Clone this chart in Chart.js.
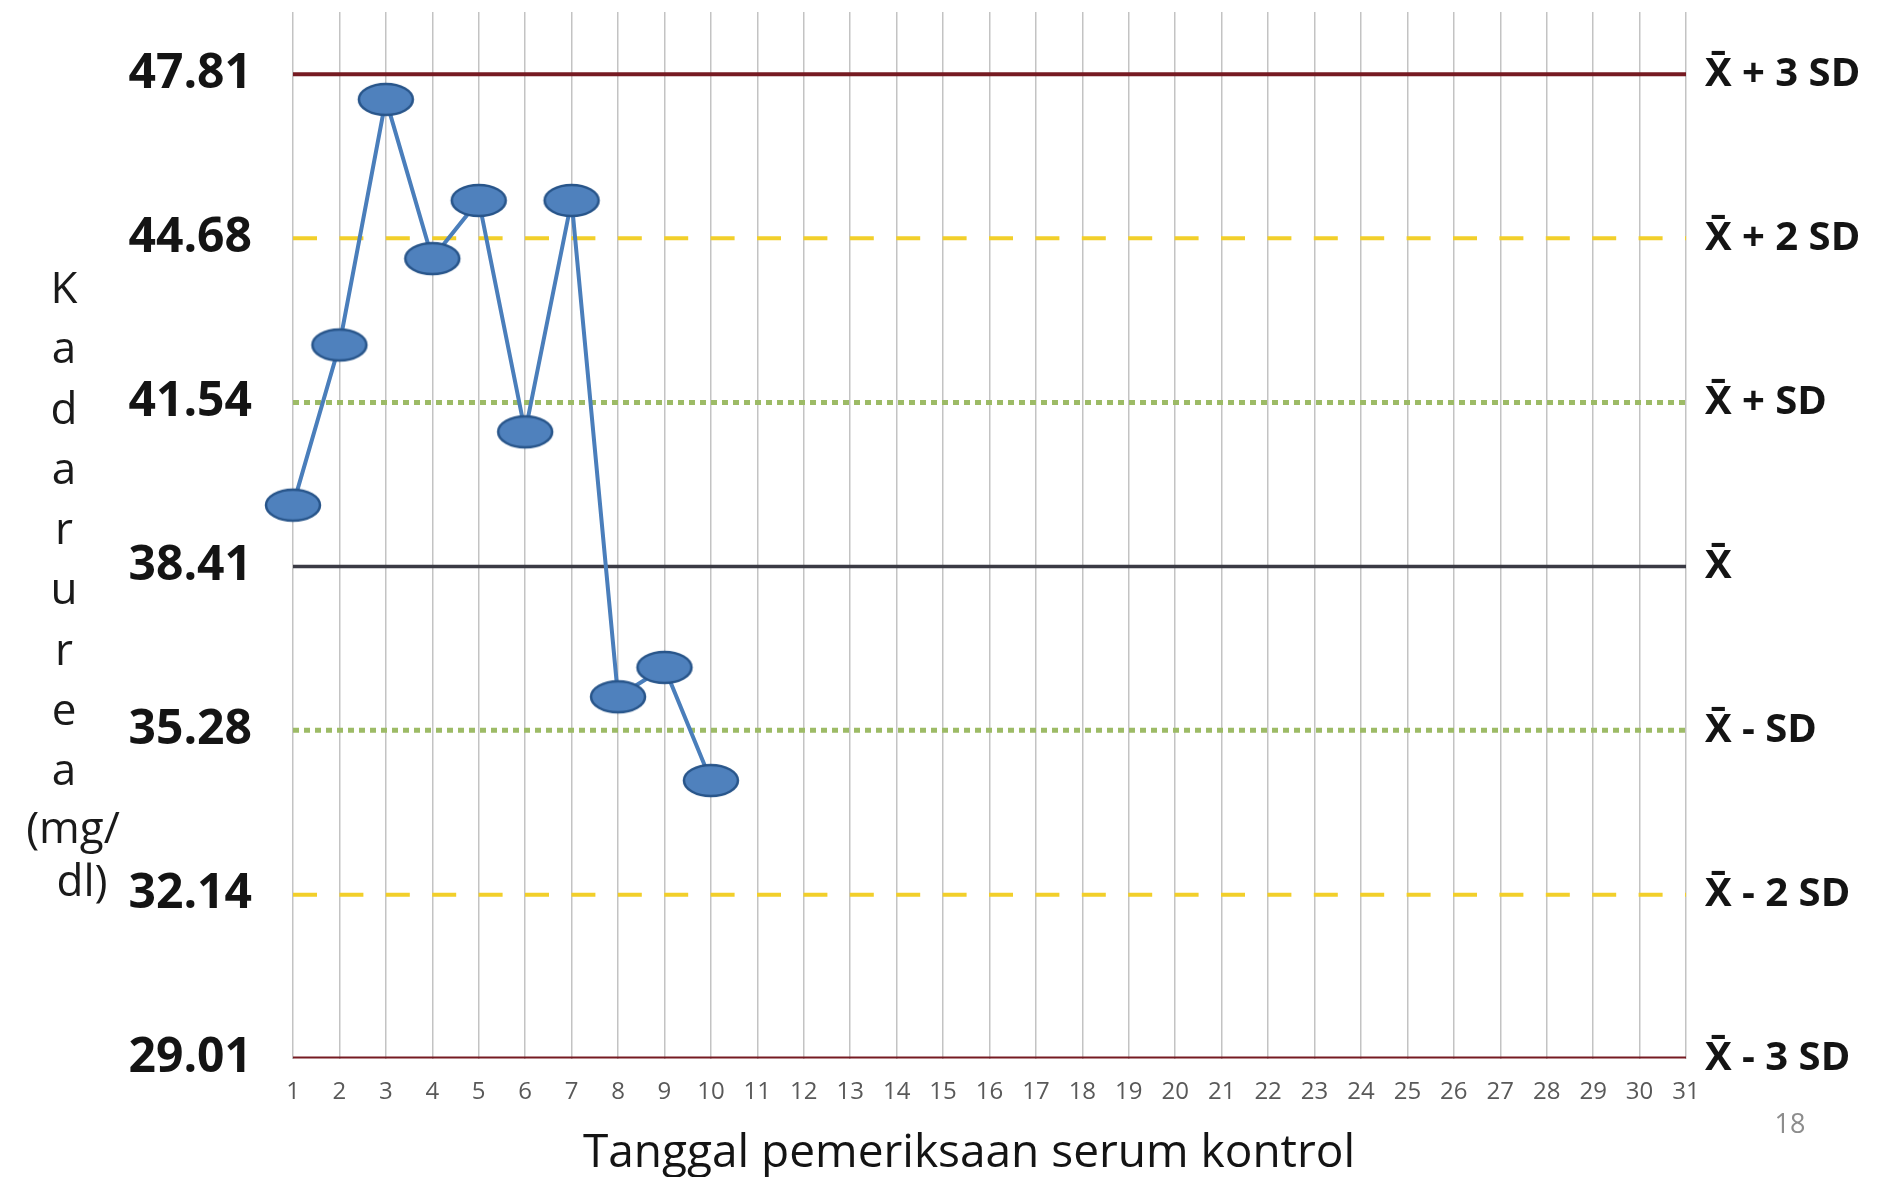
<!DOCTYPE html>
<html>
<head>
<meta charset="utf-8">
<script src="https://cdn.jsdelivr.net/npm/chart.js"></script>
<style>
  html, body { margin: 0; padding: 0; background: #fff; }
</style>
</head>
<body>
<canvas id="qcChart" width="1886" height="1177"></canvas>
<script>
// tanggal pemeriksaan (sumbu x)
const hari = [1, 2, 3, 4, 5, 6, 7, 8, 9, 10, 11, 12, 13, 14, 15, 16, 17, 18, 19, 20,
  21, 22, 23, 24, 25, 26, 27, 28, 29, 30, 31];
// kadar urea serum kontrol (mg/dl), hari 1 - 10
const kadarUrea = [39.58, 42.64, 47.33, 44.29, 45.40, 40.98, 45.40, 35.92, 36.48, 34.32];
// batas kontrol
const batasNilai = [47.81, 44.68, 41.54, 38.41, 35.28, 32.14, 29.01];
const batasNama = ['X\u0304 + 3 SD', 'X\u0304 + 2 SD', 'X\u0304 + SD', 'X\u0304', 'X\u0304 - SD', 'X\u0304 - 2 SD', 'X\u0304 - 3 SD'];
const judulY = ['K', 'a', 'd', 'a', 'r', 'u', 'r', 'e', 'a', '(mg/', 'dl)'];
const judulX = 'Tanggal pemeriksaan serum kontrol';

// gaya garis batas (urut sama dengan batasNilai)
const merah = { color: '#761b22', width: 4, dash: [] };
const kuning = { color: '#f2cf2a', width: 4, dash: [24, 22.4] };
const hijau = { color: '#9dbb66', width: 5, dash: [6, 5] };
const rata = { color: '#3b3b45', width: 3.5, dash: [] };
const gayaBatas = [merah, kuning, hijau, rata, hijau, kuning, merah];

Chart.defaults.font.family = "'Open Sans', sans-serif";

// titik elips biru
function bikinTitik() {
  const c = document.createElement('canvas');
  c.width = 60; c.height = 37;
  const g = c.getContext('2d');
  g.beginPath();
  g.ellipse(30, 18.5, 27, 15.5, 0, 0, Math.PI * 2);
  g.fillStyle = '#4f81bd';
  g.fill();
  g.lineWidth = 2.5;
  g.strokeStyle = '#28558a';
  g.stroke();
  return c;
}

const datasetBatas = batasNilai.map((v, i) => ({
  data: [{ x: hari[0], y: v }, { x: hari[hari.length - 1], y: v }],
  borderColor: gayaBatas[i].color,
  borderWidth: gayaBatas[i].width,
  borderDash: gayaBatas[i].dash,
  pointRadius: 0,
  order: 2
}));

const datasetKadar = {
  data: kadarUrea.map((v, i) => ({ x: hari[i], y: v })),
  borderColor: '#4a7ebb',
  borderWidth: 4,
  pointStyle: bikinTitik(),
  pointRadius: 15,
  tension: 0,
  clip: false,
  order: 0
};

// judul sumbu (y ditulis huruf demi huruf) + nomor halaman
const teksTambahan = {
  id: 'teksTambahan',
  afterDraw(chart) {
    const ctx = chart.ctx;
    ctx.save();
    ctx.fillStyle = '#1a1a1a';
    ctx.font = "44px 'Open Sans', sans-serif";
    ctx.textAlign = 'center';
    ctx.textBaseline = 'alphabetic';
    judulY.forEach((t, i) => {
      if (i < 9) ctx.fillText(t, 64, 303 + i * 60.25);
    });
    ctx.fillText(judulY[9], 73, 843);
    ctx.fillText(judulY[10], 82, 896);

    ctx.font = "46px 'Open Sans', sans-serif";
    ctx.textBaseline = 'middle';
    ctx.fillStyle = '#141414';
    ctx.fillText(judulX, 969, 1154);

    ctx.fillStyle = '#8c8c8c';
    ctx.font = "27px 'Open Sans', sans-serif";
    ctx.fillText('18', 1790, 1125);
    ctx.restore();
  }
};

const ctx = document.getElementById('qcChart');
new Chart(ctx, {
  type: 'line',
  data: { datasets: [datasetKadar, ...datasetBatas] },
  options: {
    responsive: false,
    animation: false,
    layout: { autoPadding: false, padding: { top: 12, left: 0, right: 0, bottom: 0 } },
    plugins: { legend: { display: false }, tooltip: { enabled: false } },
    scales: {
      x: {
        type: 'linear',
        min: 1,
        max: 31,
        afterBuildTicks: s => { s.ticks = hari.map(v => ({ value: v })); },
        afterFit: s => { s.height = 118.5; s.paddingLeft = 0; s.paddingRight = 0; },
        ticks: { autoSkip: false, maxRotation: 0, color: '#595959', font: { size: 24 }, padding: 19, callback: v => String(v) },
        grid: { color: '#c3c3c3', lineWidth: 1.5, drawTicks: false },
        border: { display: false }
      },
      y: {
        type: 'linear',
        position: 'left',
        min: 29.01,
        max: 49.0,
        afterBuildTicks: s => { s.ticks = batasNilai.map(v => ({ value: v })); },
        afterFit: s => { s.width = 293; s.paddingTop = 0; s.paddingBottom = 0; },
        ticks: { color: '#141414', font: { size: 48, weight: 'bold' }, padding: 33, callback: v => v.toFixed(2) },
        grid: { display: false },
        border: { display: false }
      },
      y2: {
        type: 'linear',
        position: 'right',
        min: 29.01,
        max: 49.0,
        afterBuildTicks: s => { s.ticks = batasNilai.map(v => ({ value: v })); },
        afterFit: s => { s.width = 200; s.paddingTop = 0; s.paddingBottom = 0; },
        ticks: { color: '#141414', font: { size: 40, weight: 'bold' }, padding: 11, callback: (v, i) => batasNama[i] },
        grid: { display: false },
        border: { display: false }
      }
    }
  },
  plugins: [teksTambahan]
});
</script>
</body>
</html>
